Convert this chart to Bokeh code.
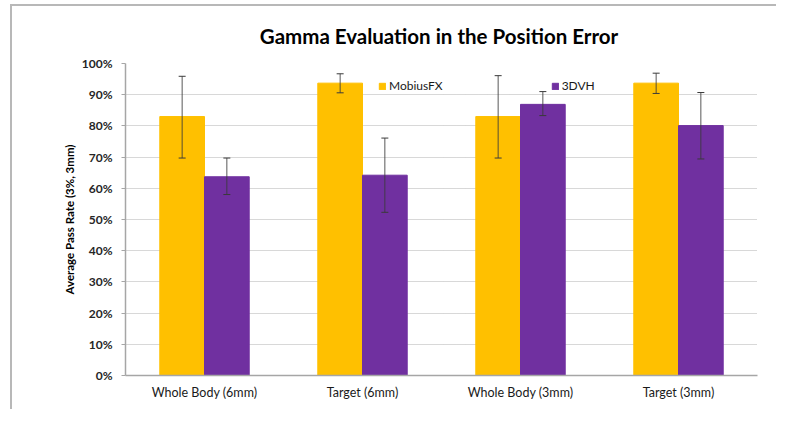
from bokeh.plotting import figure
from bokeh.models import (ColumnDataSource, FactorRange, Whisker, TeeHead, Legend, LegendItem,
                          PrintfTickFormatter, SingleIntervalTicker)
from bokeh.transform import dodge
from bokeh.embed import file_html
from bokeh.resources import INLINE

categories = ["Whole Body (6mm)", "Target (6mm)", "Whole Body (3mm)", "Target (3mm)"]
mobius = [83.0, 93.7, 83.0, 93.7]
mobius_low = [69.7, 90.6, 69.7, 90.4]
mobius_high = [95.9, 96.7, 96.1, 96.9]
dvh = [63.7, 64.2, 86.9, 80.1]
dvh_low = [58.0, 52.3, 83.3, 69.4]
dvh_high = [69.7, 76.1, 91.0, 90.7]
series_names = ["MobiusFX", "3DVH"]
title_text = "Gamma Evaluation  in the Position Error"
y_ticks_step = 10

YELLOW = "#FFC000"
PURPLE = "#7030A0"
FONT = "Lato"

src = ColumnDataSource(dict(cat=categories, m=mobius, ml=mobius_low, mh=mobius_high,
                            d=dvh, dl=dvh_low, dh=dvh_high))

p = figure(x_range=FactorRange(*categories, range_padding=0), y_range=(0, 100),
           width=766, height=405, output_backend="svg", toolbar_location=None,
           min_border_left=113, min_border_right=21, min_border_top=56, min_border_bottom=36,
           title=title_text)
p.margin = (4, 0, 0, 10)
p.styles = {"border-top": "2px solid #b8b8b8", "border-left": "2px solid #b8b8b8"}
p.outline_line_color = None
p.background_fill_color = "white"
p.border_fill_color = "white"

p.title.align = "center"
p.title.text_font = FONT
p.title.text_font_size = "20.5px"
p.title.text_font_style = "bold"
p.title.text_color = "#000000"
p.title.offset = 3
p.title.standoff = 31

bw = 0.283
r1 = p.vbar(x=dodge("cat", -bw / 2, range=p.x_range), top="m", width=bw, source=src,
            fill_color=YELLOW, line_color=YELLOW)
r2 = p.vbar(x=dodge("cat", bw / 2, range=p.x_range), top="d", width=bw, source=src,
            fill_color=PURPLE, line_color=PURPLE)

for base, lo, hi in [(dodge("cat", -bw / 2, range=p.x_range), "ml", "mh"),
                     (dodge("cat", bw / 2, range=p.x_range), "dl", "dh")]:
    w = Whisker(source=src, base=base, lower=lo, upper=hi, level="annotation",
                line_color="#3a3a3a", line_alpha=0.85, line_width=1,
                upper_head=TeeHead(size=7, line_color="#3a3a3a", line_width=1),
                lower_head=TeeHead(size=7, line_color="#3a3a3a", line_width=1))
    p.add_layout(w)

# axes
p.yaxis.ticker = SingleIntervalTicker(interval=y_ticks_step)
p.yaxis.formatter = PrintfTickFormatter(format="%d%%")
p.yaxis.axis_label = "Average Pass Rate (3%, 3mm)"
p.yaxis.axis_label_text_font = FONT
p.yaxis.axis_label_text_font_size = "11.5px"
p.yaxis.axis_label_text_font_style = "bold"
p.yaxis.axis_label_text_color = "#000000"
p.yaxis.axis_label_standoff = 3
p.yaxis.major_label_text_font = FONT
p.yaxis.major_label_text_font_size = "12px"
p.yaxis.major_label_text_font_style = "bold"
p.yaxis.major_label_text_color = "#262626"
p.yaxis.major_label_standoff = 9
p.yaxis.major_tick_out = 4
p.yaxis.major_tick_in = 0
p.yaxis.minor_tick_out = 0
p.yaxis.minor_tick_in = 0
p.yaxis.axis_line_color = "#a6a6a6"
p.yaxis.major_tick_line_color = "#a6a6a6"
p.yaxis.axis_line_width = 1.5

p.xaxis.major_tick_line_color = None
p.xaxis.minor_tick_line_color = None
p.xaxis.axis_line_color = "#a6a6a6"
p.xaxis.axis_line_width = 1.5
p.xaxis.major_label_text_font = FONT
p.xaxis.major_label_text_font_size = "12.5px"
p.xaxis.major_label_text_color = "#1a1a1a"
p.xaxis.major_label_standoff = 3

p.xgrid.grid_line_color = None
p.ygrid.grid_line_color = "#b0b0b0"
p.ygrid.grid_line_dash = "1 1"
p.ygrid.grid_line_width = 1

legend = Legend(items=[LegendItem(label=series_names[0], renderers=[r1]),
                       LegendItem(label=series_names[1], renderers=[r2])],
                orientation="horizontal", location=(253, 282))
legend.padding = 0
legend.margin = 0
legend.spacing = 108
legend.glyph_width = 8
legend.glyph_height = 8
legend.label_height = 12
legend.label_standoff = 3
legend.label_text_font = FONT
legend.label_text_font_size = "12px"
legend.label_text_color = "#1a1a1a"
legend.border_line_color = None
legend.background_fill_alpha = 0
p.add_layout(legend)

open("out.html", "w").write(file_html(p, INLINE))
